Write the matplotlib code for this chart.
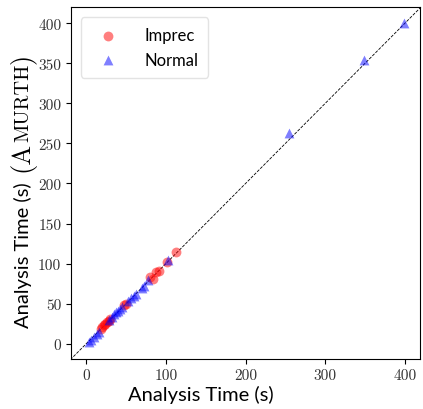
import matplotlib
matplotlib.use('Agg')
import matplotlib.pyplot as plt

# Данные (время анализа, с)
imprec_x = [113, 101, 91, 88, 80, 84, 50, 47, 28, 26, 24, 20, 22, 30, 18]
imprec_y = [114, 102, 91, 89, 83, 81, 50, 48, 28, 27, 25, 21, 23, 31, 19]
normal_x = [3, 6, 10, 13, 16, 29, 32, 35, 38, 40, 42, 45, 52, 56, 60, 63, 70, 73, 78, 103, 255, 349, 399]
normal_y = [2, 5, 9, 12, 15, 30, 33, 37, 40, 41, 43, 46, 53, 57, 60, 62, 70, 72, 79, 104, 263, 354, 400]
ticks = [0, 100, 200, 300, 400]
yticks = [0, 50, 100, 150, 200, 250, 300, 350, 400]

fig = plt.figure(figsize=(4.23, 4.10), dpi=100)
ax = fig.add_axes([0.168, 0.122, 0.825, 0.858])

ax.plot([-20, 420], [-20, 420], color='black', linestyle='--', linewidth=0.6, zorder=1)
ax.scatter(imprec_x, imprec_y, s=50, color='red', alpha=0.5, marker='o',
           linewidths=0, label='Imprec', zorder=2)
ax.scatter(normal_x, normal_y, s=50, color='blue', alpha=0.5, marker='^',
           linewidths=0, label='Normal', zorder=3)

ax.set_xlim(-19, 419)
ax.set_ylim(-19, 420)
ax.set_xticks(ticks)
ax.set_yticks(yticks)
for lab in ax.get_xticklabels() + ax.get_yticklabels():
    lab.set_fontfamily('cmr10')
    lab.set_fontsize(11)
    lab.set_color('#333333')

ax.set_xlabel('Analysis Time (s)', fontfamily='Lato', fontsize=14.5)
ax.xaxis.set_label_coords(0.372, -0.075, transform=ax.transAxes)
ax.xaxis.label.set_va('top')

leg = ax.legend(loc='upper left', prop={'family': 'Lato', 'size': 12},
                borderpad=0.6, handletextpad=1.2, labelspacing=0.5, borderaxespad=0.6)
leg.get_frame().set_edgecolor('#dddddd')

# Подпись оси Y из нескольких кусков (разные шрифты)
fig.canvas.draw()
r = fig.canvas.get_renderer()
base_x = 0.068
pieces = [('Analysis Time (s)  ', 'Lato', 14.5), ('(A', 'cmr10', 19),
          ('MURTH', 'cmr10', 14.5), (')', 'cmr10', 19)]
texts = []
for s, fam, size in pieces:
    texts.append(fig.text(base_x, 0, s, family=fam, fontsize=size, rotation=90,
                          rotation_mode='anchor', ha='left', va='baseline'))
heights = [t.get_window_extent(r).height / fig.bbox.height for t in texts]
total = sum(heights)
y0 = 0.535 - total / 2
for t, h in zip(texts, heights):
    t.set_y(y0)
    y0 += h

fig.savefig('out.png', dpi=100)
